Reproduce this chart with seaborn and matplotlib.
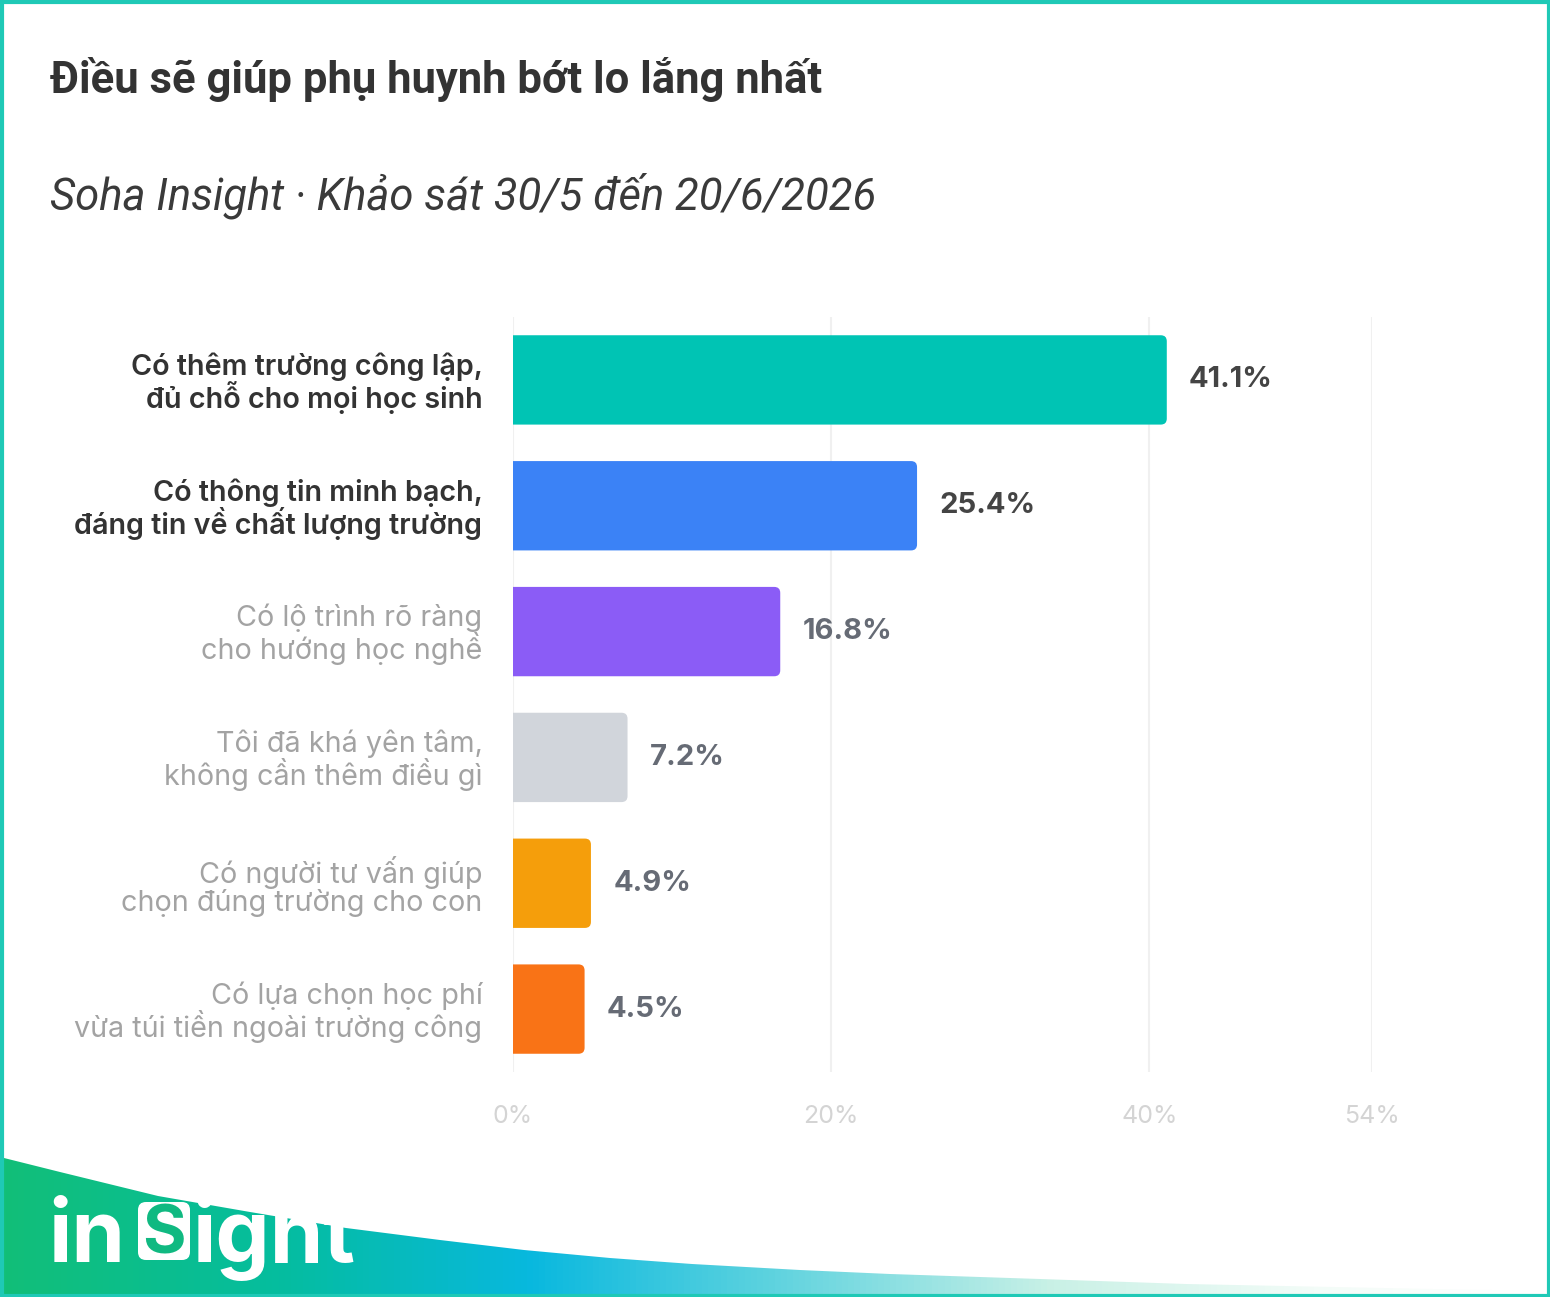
import numpy as np
import pandas as pd
import matplotlib
matplotlib.use("Agg")
import matplotlib.pyplot as plt
import seaborn as sns
from matplotlib.patches import FancyBboxPatch, Rectangle, Polygon
from matplotlib.colors import LinearSegmentedColormap

# ---- data ----
categories = [
    "Có thêm trường công lập,\nđủ chỗ cho mọi học sinh",
    "Có thông tin minh bạch,\nđáng tin về chất lượng trường",
    "Có lộ trình rõ ràng\ncho hướng học nghề",
    "Tôi đã khá yên tâm,\nkhông cần thêm điều gì",
    "Có người tư vấn giúp\nchọn đúng trường cho con",
    "Có lựa chọn học phí\nvừa túi tiền ngoài trường công",
]
values = [41.1, 25.4, 16.8, 7.2, 4.9, 4.5]
bar_colors = ["#00c4b4", "#3b82f6", "#8b5cf6", "#d1d5db", "#f59e0b", "#f97316"]
highlight = [True, True, False, False, False, False]
x_ticks = [0, 20, 40, 54]
x_ticklabels = ["0%", "20%", "40%", "54%"]
title = "Điều sẽ giúp phụ huynh bớt lo lắng nhất"
subtitle = "Soha Insight · Khảo sát 30/5 đến 20/6/2026"

sns.set_theme(style="white")
plt.rcParams["font.family"] = ["Inter", "DejaVu Sans"]

W, H = 1550, 1297
fig = plt.figure(figsize=(W / 100, H / 100), dpi=100)
fig.patch.set_facecolor("white")

# ---- bottom wave background ----
bg = fig.add_axes([0, 0, 1, 1], zorder=0)
bg.set_xlim(0, W)
bg.set_ylim(H, 0)
bg.axis("off")
grad = np.linspace(0, 1, 512)[None, :]
cmap = LinearSegmentedColormap.from_list(
    "wave",
    [(0.0, "#12bf78"), (0.18, "#05bd9f"), (0.34, "#08b8de"),
     (0.5, "#5fd3df"), (0.68, "#c9f1e6"), (0.85, "#f3fcf8"), (1.0, "#ffffff")],
)
im = bg.imshow(grad, cmap=cmap, extent=[0, W, H, 1150], aspect="auto", zorder=1)
wave_pts = [(0, 1157), (60, 1172), (158, 1196), (250, 1212), (346, 1228),
            (440, 1240), (524, 1250), (610, 1258), (692, 1264), (800, 1270),
            (890, 1274), (1040, 1279), (1186, 1284), (1433, 1289), (W, 1291),
            (W, H), (0, H)]
clip = Polygon(wave_pts, closed=True, transform=bg.transData, facecolor="none", edgecolor="none")
bg.add_patch(clip)
im.set_clip_path(clip)

# logo
bg.text(48, 1262, "in", color="white", fontsize=62, fontweight="bold",
        family=["Inter", "DejaVu Sans"], va="baseline", ha="left", zorder=3)
bg.add_patch(FancyBboxPatch((138, 1202), 52, 58, boxstyle="round,pad=0,rounding_size=8",
                            facecolor="white", edgecolor="none", zorder=3))
bg.text(164, 1254, "S", color="#10b981", fontsize=48, fontweight="bold",
        family=["Inter", "DejaVu Sans"], va="baseline", ha="center", zorder=4)
bg.text(192, 1262, "ight", color="white", fontsize=62, fontweight="bold",
        family=["Inter", "DejaVu Sans"], va="baseline", ha="left", zorder=3)

# border
bg.add_patch(Rectangle((1.5, 1.5), W - 3, H - 3, facecolor="none",
                       edgecolor="#1fc9b6", linewidth=3, zorder=5))

# ---- titles ----
fig.text(50 / W, 1 - 80 / H, title, fontsize=31.4, fontweight="bold", color="#333333",
         va="center", ha="left", family=["Roboto", "DejaVu Sans"])
fig.text(50 / W, 1 - 196 / H, subtitle, fontsize=31.4, style="italic", color="#3a3a3a",
         va="center", ha="left", family=["Roboto", "DejaVu Sans"], fontweight="normal")

# ---- chart ----
ax = fig.add_axes([513 / W, 1 - 1072 / H, (1372 - 513) / W, (1072 - 317) / H], zorder=2)
ax.patch.set_alpha(0)
df = pd.DataFrame({"cat": categories, "val": values})
sns.barplot(data=df, x="val", y="cat", hue="cat", palette=bar_colors, orient="h",
            width=0.71, legend=False, ax=ax, saturation=1, zorder=3)
ax.set_xlim(0, 54)
ax.set_ylim(5.5, -0.5)

# rounded right corners
px_x = (1372 - 513) / 54.0
px_y = (1072 - 317) / 6.0
r_px = 6
r_x = r_px / px_x
aspect = (r_px / px_y) / r_x
for p in list(ax.patches):
    x0, y0, w, h = p.get_x(), p.get_y(), p.get_width(), p.get_height()
    fc = p.get_facecolor()
    p.remove()
    fb = FancyBboxPatch((x0 - 1, y0), w + 1, h,
                        boxstyle=f"round,pad=0,rounding_size={r_x}",
                        mutation_aspect=aspect, facecolor=fc, edgecolor="none", zorder=3)
    ax.add_patch(fb)
    fb.set_clip_path(ax.patch)

for i, (v, hl) in enumerate(zip(values, highlight)):
    ax.annotate(f"{v:.1f}%", xy=(v, i), xytext=(16, 0), textcoords="offset points",
                va="center", ha="left", fontsize=21, fontweight="bold",
                color="#444444" if hl else "#666b75")

ax.set_xticks(x_ticks)
ax.set_xticklabels(x_ticklabels)
ax.grid(axis="x", color="#f0f0f0", linewidth=1.5, zorder=0)
ax.grid(axis="y", visible=False)
for s in ax.spines.values():
    s.set_visible(False)
ax.tick_params(axis="x", length=16, color="#f0f0f0", width=1.5, pad=8,
               labelsize=18, labelcolor="#d4d4d4")
ax.tick_params(axis="y", length=0, pad=22, labelsize=20.7)
ax.set_xlabel("")
ax.set_ylabel("")
for lbl, hl in zip(ax.get_yticklabels(), highlight):
    lbl.set_fontweight(600 if hl else "normal")
    lbl.set_color("#333333" if hl else "#a3a3a3")
    lbl.set_linespacing(1.0)
    lbl.set_multialignment("right")

fig.savefig("out.png", dpi=100, facecolor="white")
